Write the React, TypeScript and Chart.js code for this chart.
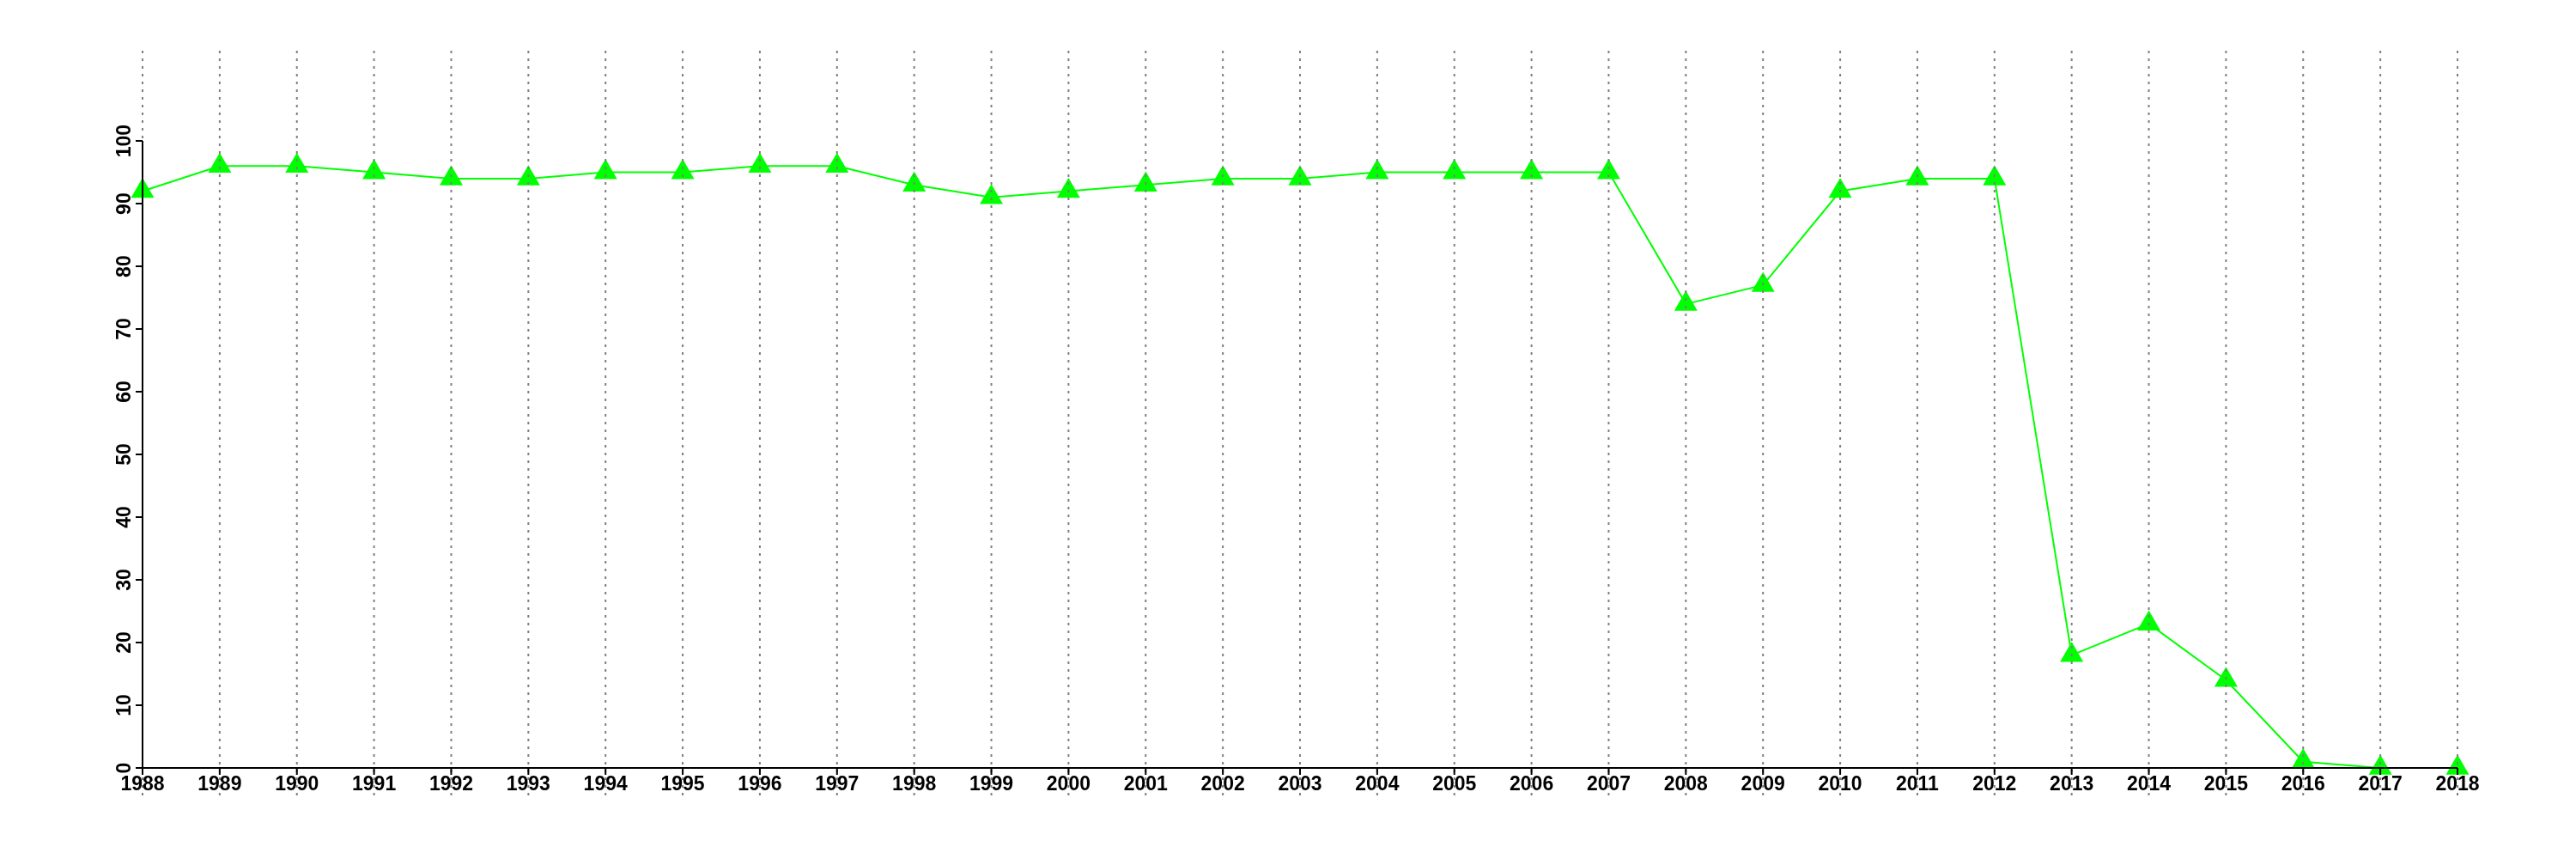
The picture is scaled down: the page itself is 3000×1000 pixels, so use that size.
import React, { useEffect, useRef } from "react";
import { Chart, registerables } from "chart.js";

Chart.register(...registerables);

const years = [
  "1988", "1989", "1990", "1991", "1992", "1993", "1994", "1995", "1996", "1997",
  "1998", "1999", "2000", "2001", "2002", "2003", "2004", "2005", "2006", "2007",
  "2008", "2009", "2010", "2011", "2012", "2013", "2014", "2015", "2016", "2017", "2018",
];

const values = [
  92, 96, 96, 95, 94, 94, 95, 95, 96, 96,
  93, 91, 92, 93, 94, 94, 95, 95, 95, 95,
  74, 77, 92, 94, 94, 18, 23, 14, 1, 0, 0,
];

const yTickValues = [0, 10, 20, 30, 40, 50, 60, 70, 80, 90, 100];

const FONT = 'bold 23px "Liberation Sans", Arial, sans-serif';

const rAxesPlugin = {
  id: "rAxes",
  afterDraw(chart: any) {
    const { ctx, chartArea, scales } = chart;
    const x = scales.x;
    const y = scales.y;
    ctx.save();
    const y0 = y.getPixelForValue(yTickValues[0]);
    const y1 = y.getPixelForValue(yTickValues[yTickValues.length - 1]);
    const xl = x.getPixelForValue(0);
    const xr = x.getPixelForValue(years.length - 1);

    // dotted grid
    ctx.strokeStyle = "#7f7f7f";
    ctx.lineWidth = 2;
    ctx.setLineDash([3, 6]);
    years.forEach((_, i) => {
      const px = x.getPixelForValue(i);
      ctx.beginPath();
      ctx.moveTo(px, chartArea.top);
      ctx.lineTo(px, y0 + 33);
      ctx.stroke();
    });
    ctx.setLineDash([]);

    // axes
    ctx.strokeStyle = "#000";
    ctx.lineWidth = 2;
    ctx.beginPath();
    ctx.moveTo(xl, y0);
    ctx.lineTo(xl, y1);
    yTickValues.forEach((v) => {
      const py = y.getPixelForValue(v);
      ctx.moveTo(xl, py);
      ctx.lineTo(xl - 8, py);
    });
    ctx.moveTo(xl, y0);
    ctx.lineTo(xr, y0);
    years.forEach((_, i) => {
      const px = x.getPixelForValue(i);
      ctx.moveTo(px, y0);
      ctx.lineTo(px, y0 + 8);
    });
    ctx.stroke();

    // labels
    ctx.fillStyle = "#000";
    ctx.font = FONT;
    ctx.textAlign = "center";
    ctx.textBaseline = "alphabetic";
    years.forEach((lab, i) => {
      ctx.fillText(lab, x.getPixelForValue(i), y0 + 26);
    });
    yTickValues.forEach((v) => {
      ctx.save();
      ctx.translate(xl - 14, y.getPixelForValue(v));
      ctx.rotate(-Math.PI / 2);
      ctx.fillText(String(v), 0, 0);
      ctx.restore();
    });
    ctx.restore();
  },
};

export default function App() {
  const canvasRef = useRef<HTMLCanvasElement | null>(null);

  useEffect(() => {
    if (!canvasRef.current) return;
    const chart = new Chart(canvasRef.current, {
      type: "line",
      data: {
        labels: years,
        datasets: [
          {
            data: values,
            borderColor: "#00ff00",
            borderWidth: 2,
            pointStyle: "triangle",
            pointRadius: 15.6,
            pointHoverRadius: 15.6,
            pointBackgroundColor: "#00ff00",
            pointBorderColor: "#00ff00",
            pointBorderWidth: 0,
            tension: 0,
            fill: false,
            clip: false as any,
          },
        ],
      },
      options: {
        animation: false,
        responsive: false,
        devicePixelRatio: 1,
        layout: { padding: { left: 166, right: 138, top: 59, bottom: 106 } },
        plugins: { legend: { display: false }, tooltip: { enabled: false } },
        scales: {
          x: { type: "category", display: false, offset: false },
          y: { type: "linear", display: false, min: 0, max: 114.4 },
        },
      },
      plugins: [rAxesPlugin],
    });
    return () => chart.destroy();
  }, []);

  return (
    <div style={{ position: "fixed", left: 0, top: 0, width: 3000, height: 1000, background: "#fff" }}>
      <canvas ref={canvasRef} width={3000} height={1000} style={{ display: "block" }} />
    </div>
  );
}
